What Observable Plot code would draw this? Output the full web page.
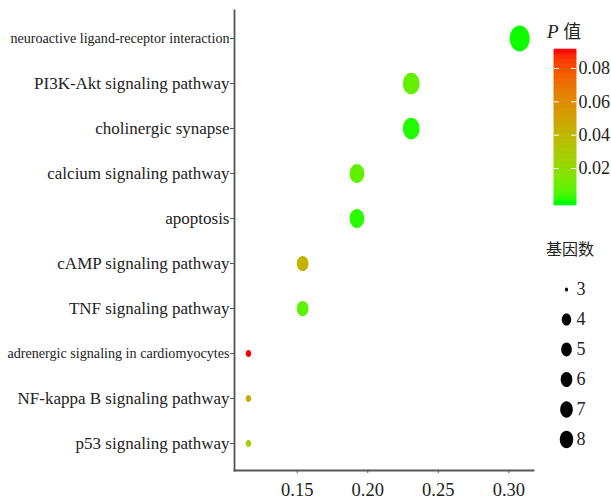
<!DOCTYPE html>
<html>
<head>
<meta charset="utf-8">
<script src="https://cdn.jsdelivr.net/npm/d3@7"></script>
<script src="https://cdn.jsdelivr.net/npm/@observablehq/plot@0.6"></script>
<style>
  html, body { margin: 0; padding: 0; background: #fff; }
  #wrap { position: relative; width: 611px; height: 500px; overflow: hidden; }
  #wrap > * { position: absolute; }
  .ttl { font-family: "Liberation Serif", serif; color: #222; white-space: nowrap; }
</style>
</head>
<body>
<div id="wrap"></div>
<script>
// ---- data ----
const pathways = [
  "neuroactive ligand-receptor interaction",
  "PI3K-Akt signaling pathway",
  "cholinergic synapse",
  "calcium signaling pathway",
  "apoptosis",
  "cAMP signaling pathway",
  "TNF signaling pathway",
  "adrenergic signaling in cardiomyocytes",
  "NF-kappa B signaling pathway",
  "p53 signaling pathway"
];
const geneRatio = [0.3077, 0.2308, 0.2308, 0.1923, 0.1923, 0.1538, 0.1538, 0.1154, 0.1154, 0.1154];
const geneCount = [8, 6, 6, 5, 5, 4, 4, 3, 3, 3];
const pValue    = [0.0003, 0.009, 0.001, 0.008, 0.0015, 0.042, 0.007, 0.09, 0.045, 0.028];
const xTicks = [0.15, 0.20, 0.25, 0.30];
const pTicks = [0.02, 0.04, 0.06, 0.08];
const sizeKeys = [3, 4, 5, 6, 7, 8];

const rows = pathways.map((p, i) => ({pathway: p, ratio: geneRatio[i], count: geneCount[i], p: pValue[i]}));

// ellipse symbol (taller than wide)
const ellipse = {
  draw(ctx, size) {
    const rx = Math.sqrt(size / Math.PI), ry = rx * 1.3, k = 0.5523;
    ctx.moveTo(rx, 0);
    ctx.bezierCurveTo(rx, k * ry, k * rx, ry, 0, ry);
    ctx.bezierCurveTo(-k * rx, ry, -rx, k * ry, -rx, 0);
    ctx.bezierCurveTo(-rx, -k * ry, -k * rx, -ry, 0, -ry);
    ctx.bezierCurveTo(k * rx, -ry, rx, -k * ry, rx, 0);
    ctx.closePath();
  }
};

const colorScale = {type: "linear", domain: [0, 0.09], range: ["#00ff00", "#ff0000"], interpolate: "lab", clamp: true};
const serif = "Liberation Serif, Times New Roman, serif";

const main = Plot.plot({
  width: 611, height: 500,
  marginLeft: 234, marginRight: 78, marginTop: 10, marginBottom: 30,
  style: {fontFamily: serif, fontSize: "17px", background: "transparent", color: "#222"},
  x: {domain: [0.1055, 0.3175], label: null},
  y: {domain: pathways, type: "point", padding: 0.58, label: null},
  color: colorScale,
  r: {type: "linear", domain: [3, 4, 5, 6, 8], range: [2.75, 5.85, 7.35, 8.35, 10]},
  marks: [
    Plot.frame({anchor: "left", stroke: "#555", strokeWidth: 1.8}),
    Plot.frame({anchor: "bottom", stroke: "#555", strokeWidth: 1.8}),
    Plot.axisX({ticks: xTicks, tickFormat: ".2f", tickSize: 3, tickPadding: 9, fontSize: 18.5, stroke: "#555", fill: "#222", label: null}),
    Plot.axisY({tickSize: 4, tickPadding: 1, stroke: "#555", fill: "#222", label: null}),
    Plot.dot(rows, {x: "ratio", y: "pathway", r: "count", fill: "p", symbol: ellipse})
  ]
});
// compress the two long labels as in the reference
d3.select(main).selectAll("text").each(function() {
  const t = this.textContent;
  if (t === pathways[0] || t === pathways[7]) {
    d3.select(this).attr("font-size", 15.5).attr("textLength", t === pathways[0] ? 219 : 222).attr("lengthAdjust", "spacingAndGlyphs");
  }
});
main.style.left = "0px"; main.style.top = "0px";
document.getElementById("wrap").appendChild(main);

// ---- colour bar legend ----
const stops = d3.range(-0.0025, 0.0914, 0.0005);
const bar = Plot.plot({
  width: 71, height: 215,
  marginLeft: 14, marginRight: 35, marginTop: 49, marginBottom: 10,
  style: {fontFamily: serif, fontSize: "18px", background: "transparent", color: "#222"},
  x: {domain: [0, 1], axis: null},
  y: {domain: [-0.0022, 0.0914], axis: null},
  color: colorScale,
  marks: [
    Plot.rect(stops, {x1: 0, x2: 1, y1: d => Math.max(d, -0.0022), y2: d => Math.min(d + 0.0006, 0.0914), fill: d => d, stroke: d => d, strokeWidth: 0.6}),
    Plot.ruleY(pTicks, {x1: 0, x2: 0.22, stroke: "white", strokeWidth: 1}),
    Plot.ruleY(pTicks, {x1: 0.78, x2: 1, stroke: "white", strokeWidth: 1}),
    Plot.axisY({anchor: "right", ticks: pTicks, tickFormat: ".2f", tickSize: 0, tickPadding: 2, fill: "#222", label: null})
  ]
});
bar.style.left = "540px"; bar.style.top = "0px";
document.getElementById("wrap").appendChild(bar);

// ---- size legend ----
const sizeLeg = Plot.plot({
  width: 71, height: 190,
  marginLeft: 26, marginRight: 0, marginTop: 18, marginBottom: 21,
  style: {fontFamily: serif, fontSize: "18px", background: "transparent", color: "#222"},
  x: {domain: [0, 1], axis: null},
  y: {domain: sizeKeys, type: "point", padding: 0, axis: null},
  r: {type: "linear", domain: sizeKeys, range: [1.6, 4.7, 5.3, 5.8, 6.3, 6.7]},
  marks: [
    Plot.dot(sizeKeys, {y: d => d, r: d => d, fill: "black", symbol: ellipse, frameAnchor: "left"}),
    Plot.text(sizeKeys, {y: d => d, text: d => String(d), frameAnchor: "left", dx: 10, textAnchor: "start", fill: "#222"})
  ]
});
sizeLeg.style.left = "540px"; sizeLeg.style.top = "270px";
document.getElementById("wrap").appendChild(sizeLeg);

// ---- legend titles ----
const t1 = document.createElement("div");
t1.className = "ttl";
t1.style.cssText = "left:547px; top:17px; font-size:19px;";
t1.innerHTML = '<i>P</i> <span style="font-family:\'Noto Sans CJK SC\'; font-size:18px;">值</span>';
document.getElementById("wrap").appendChild(t1);

const t2 = document.createElement("div");
t2.className = "ttl";
t2.style.cssText = "left:546px; top:236px; font-size:16px; font-family:'Noto Sans CJK SC';";
t2.textContent = "基因数";
document.getElementById("wrap").appendChild(t2);
</script>
</body>
</html>
